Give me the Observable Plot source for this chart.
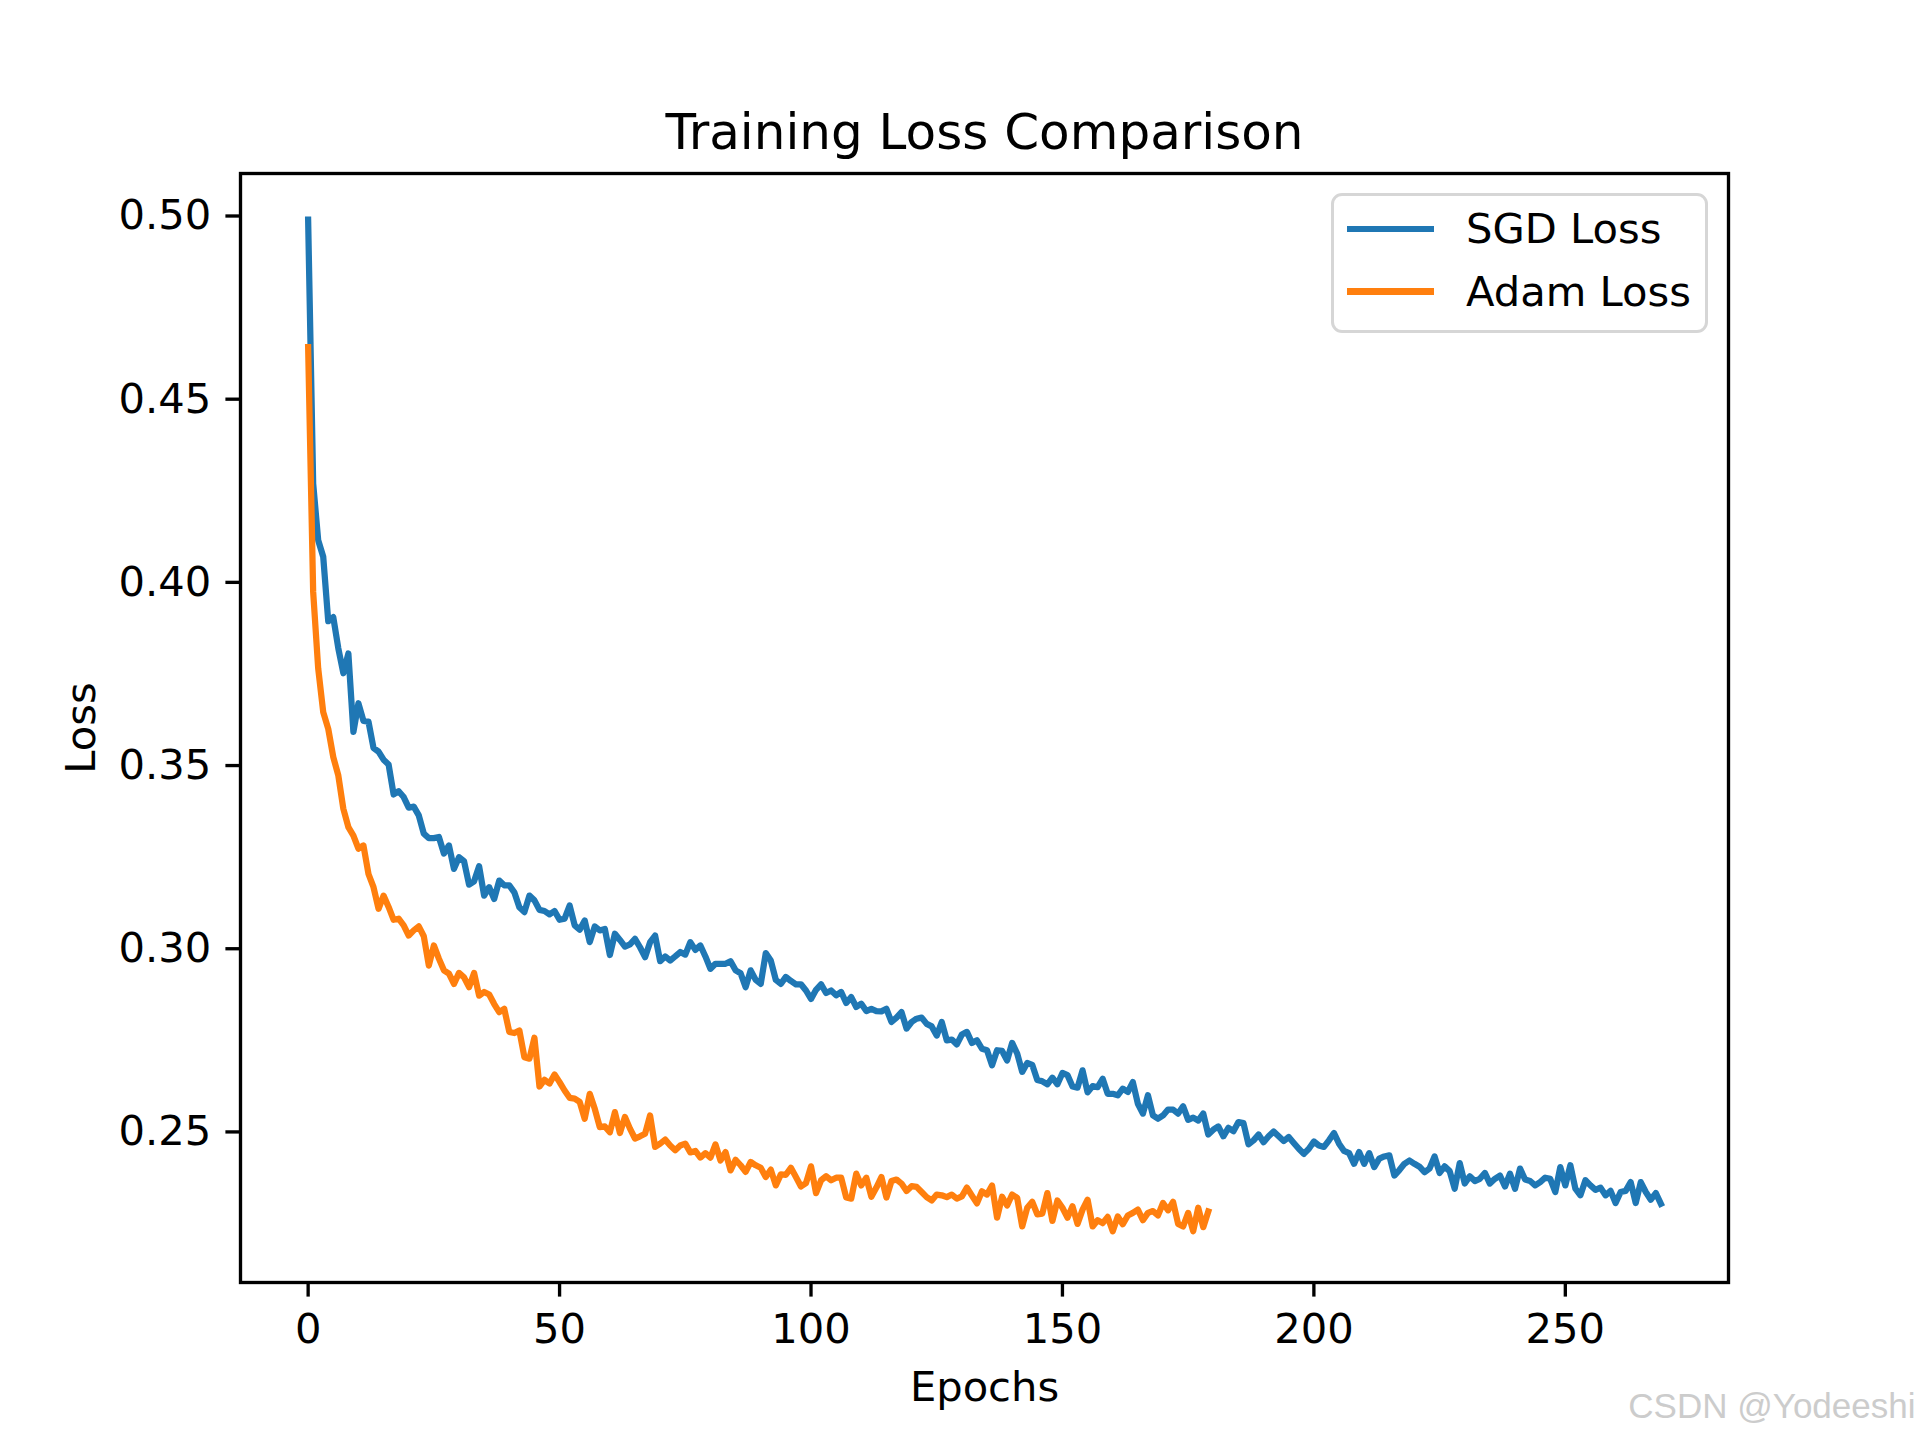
<!DOCTYPE html>
<html>
<head>
<meta charset="utf-8">
<script src="https://cdn.jsdelivr.net/npm/d3@7"></script>
<script src="https://cdn.jsdelivr.net/npm/@observablehq/plot@0.6"></script>
<style>
  html, body { margin: 0; padding: 0; background: #ffffff; }
  #wrap { position: relative; width: 1920px; height: 1440px; background: #ffffff; }
  #legend { position: absolute; left: 1331px; top: 193px; width: 377px; height: 140px; box-sizing: border-box;
    border: 3.3px solid #d6d6d6; border-radius: 11px; background: rgba(255,255,255,0.8);
    font-family: "DejaVu Sans", sans-serif; font-size: 41.67px; color: #000; }
  .sw { position: absolute; left: 12.5px; width: 87px; height: 6.25px; }
  .lt { position: absolute; left: 132px; line-height: 1; white-space: nowrap; }
</style>
</head>
<body>
<div id="wrap">
  <div id="chart"></div>
  <div id="legend"></div>
</div>
<script>
const titleText = "Training Loss Comparison";
const xLabelText = "Epochs";
const yLabelText = "Loss";
const seriesNames = ["SGD Loss", "Adam Loss"];
const seriesColors = ["#1f77b4", "#ff7f0e"];
const xTicks = [0, 50, 100, 150, 200, 250];
const yTicks = [0.25, 0.30, 0.35, 0.40, 0.45, 0.50];
const watermarkText = "CSDN @Yodeeshi";

const sgdLoss = [
0.499,0.427,0.4115,0.407,0.3894,0.3905,0.382,0.3752,0.3806,0.3592,
0.367,0.3622,0.362,0.3548,0.3538,0.3516,0.3503,0.3421,0.343,0.3414,
0.3385,0.3388,0.3364,0.3314,0.3302,0.3302,0.3305,0.326,0.3282,0.3218,
0.325,0.3239,0.3175,0.3184,0.3225,0.3145,0.3168,0.3136,0.3186,0.3173,
0.3173,0.3154,0.3113,0.31,0.3145,0.3132,0.3106,0.3103,0.3094,0.3103,
0.3079,0.3082,0.3118,0.3064,0.3052,0.3077,0.3018,0.3061,0.305,0.3054,
0.2983,0.3041,0.3024,0.3006,0.3012,0.3027,0.3004,0.2977,0.3018,0.3036,
0.2966,0.2979,0.2968,0.2979,0.2991,0.2984,0.3018,0.2997,0.3009,0.2979,
0.2945,0.2959,0.2959,0.2959,0.2966,0.2941,0.2933,0.2895,0.2941,0.2915,
0.2904,0.2988,0.2968,0.2915,0.2904,0.2923,0.2912,0.2903,0.2903,0.2886,
0.2863,0.2888,0.2903,0.2879,0.2886,0.2873,0.2882,0.2852,0.2868,0.2841,
0.285,0.283,0.2836,0.283,0.2829,0.2836,0.28,0.2812,0.2827,0.2782,
0.28,0.2809,0.2812,0.2795,0.2788,0.2763,0.28,0.275,0.2752,0.2739,
0.2766,0.2773,0.2743,0.275,0.2727,0.2723,0.2682,0.2723,0.2721,0.2695,
0.2743,0.2714,0.2664,0.2688,0.2683,0.2642,0.2638,0.263,0.2648,0.263,
0.2661,0.2655,0.2624,0.2621,0.2668,0.2608,0.2625,0.2622,0.2645,0.2604,
0.2604,0.26,0.2618,0.2609,0.2636,0.2577,0.255,0.26,0.2545,0.2536,
0.2545,0.2561,0.2561,0.255,0.257,0.2533,0.2539,0.2531,0.255,0.2493,
0.2506,0.2515,0.2488,0.2511,0.2502,0.2527,0.2524,0.2466,0.2477,0.2493,
0.2472,0.2488,0.2501,0.2488,0.2475,0.2486,0.247,0.2454,0.244,0.2454,
0.2474,0.2463,0.2459,0.2477,0.2497,0.2468,0.2448,0.2442,0.2413,0.2445,
0.2413,0.2442,0.2404,0.2427,0.2433,0.2436,0.2381,0.2396,0.2413,0.2422,
0.2413,0.2405,0.239,0.24,0.2433,0.2388,0.2406,0.2393,0.2345,0.2415,
0.2359,0.2379,0.2366,0.2372,0.2388,0.2359,0.2372,0.2381,0.2351,0.2386,
0.2345,0.24,0.237,0.2366,0.2354,0.2363,0.2375,0.2372,0.2336,0.2404,
0.2354,0.2409,0.2345,0.2327,0.2368,0.2354,0.2342,0.2348,0.2327,0.2339,
0.2306,0.2336,0.2339,0.2363,0.2306,0.2363,0.2336,0.2315,0.2333,0.2304
];

const adamLoss = [
0.4642,0.3974,0.3765,0.3646,0.36,0.3523,0.3473,0.3382,0.3332,0.3309,
0.3273,0.3282,0.3204,0.3168,0.3109,0.3145,0.3114,0.3079,0.3082,0.3064,
0.3036,0.305,0.3061,0.3034,0.2954,0.3009,0.2973,0.2941,0.2932,0.2904,
0.2934,0.2922,0.2895,0.2934,0.2872,0.2882,0.2875,0.2849,0.2827,0.2836,
0.2773,0.277,0.2777,0.2704,0.27,0.2757,0.2624,0.2642,0.2632,0.2657,
0.2636,0.2613,0.2593,0.2591,0.2582,0.2536,0.2604,0.2563,0.2513,0.2515,
0.2499,0.2554,0.2497,0.2541,0.2509,0.2482,0.2488,0.2495,0.2545,0.2459,
0.2468,0.2479,0.2463,0.245,0.2463,0.2468,0.2444,0.2448,0.243,0.2442,
0.243,0.2466,0.2422,0.2445,0.2395,0.2424,0.2409,0.2391,0.2418,0.2409,
0.2402,0.2377,0.2397,0.2354,0.2384,0.2383,0.2402,0.2377,0.2351,0.236,
0.2406,0.2333,0.2368,0.2379,0.2368,0.2375,0.2375,0.2321,0.2318,0.2386,
0.2354,0.2375,0.2323,0.2348,0.2377,0.2321,0.2366,0.237,0.2359,0.2339,
0.2352,0.235,0.2336,0.2322,0.2313,0.2329,0.2327,0.2322,0.2329,0.2318,
0.2324,0.2348,0.2326,0.2305,0.2338,0.2329,0.2354,0.2266,0.2323,0.2299,
0.2329,0.232,0.2242,0.2293,0.2309,0.2275,0.2277,0.2333,0.2257,0.2313,
0.2293,0.2266,0.2297,0.2249,0.2288,0.2315,0.2242,0.2259,0.2251,0.2268,
0.2229,0.2269,0.2248,0.2272,0.2279,0.2288,0.2259,0.2279,0.2284,0.2272,
0.2306,0.2286,0.2309,0.2249,0.2242,0.2279,0.2229,0.2293,0.224,0.2283
];

const FS = 41.67;
const lineStyle = {strokeWidth: 6.25, strokeLinecap: "square", strokeLinejoin: "round"};

const chart = Plot.plot({
  width: 1920,
  height: 1440,
  marginTop: 173,
  marginRight: 192,
  marginBottom: 158,
  marginLeft: 240,
  style: {fontFamily: "DejaVu Sans", background: "#ffffff", color: "#000000", overflow: "visible"},
  x: {domain: [-13.45, 282.45]},
  y: {domain: [0.2089, 0.5116]},
  marks: [
    Plot.lineY(sgdLoss, {x: (d, i) => i, y: d => d, stroke: seriesColors[0], ...lineStyle}),
    Plot.lineY(adamLoss, {x: (d, i) => i, y: d => d, stroke: seriesColors[1], ...lineStyle}),
    Plot.frame({stroke: "#000000", strokeWidth: 3.33}),
    Plot.axisX(xTicks, {tickSize: 14.6, tickPadding: 16, strokeWidth: 3.33, fontSize: FS, label: null, tickFormat: d => String(d)}),
    Plot.axisY(yTicks, {tickSize: 14.6, tickPadding: 14.6, strokeWidth: 3.33, fontSize: FS, label: null, tickFormat: d => d.toFixed(2)}),
    Plot.text([titleText], {text: d => d, frameAnchor: "top", dy: -25, lineAnchor: "bottom", fontSize: 50, fill: "#000000"}),
    Plot.text([xLabelText], {text: d => d, frameAnchor: "bottom", dy: 118, lineAnchor: "bottom", fontSize: FS, fill: "#000000"}),
    Plot.text([yLabelText], {text: d => d, frameAnchor: "left", textAnchor: "middle", dx: -146, rotate: -90, lineAnchor: "bottom", fontSize: FS, fill: "#000000"}),
    Plot.text([watermarkText], {text: d => d, frameAnchor: "bottom-right", dx: 187, dy: 135, textAnchor: "end", lineAnchor: "bottom", fontSize: 35, fontFamily: "Liberation Sans", fill: "#cccccc"})
  ]
});
document.getElementById("chart").appendChild(chart);

// legend
const legend = document.getElementById("legend");
const swTops = [29.6, 92.3];
const txTops = [11.8, 75.2];
seriesNames.forEach((name, i) => {
  const sw = document.createElement("div");
  sw.className = "sw";
  sw.style.top = swTops[i] + "px";
  sw.style.background = seriesColors[i];
  legend.appendChild(sw);
  const t = document.createElement("div");
  t.className = "lt";
  t.style.top = txTops[i] + "px";
  t.textContent = name;
  legend.appendChild(t);
});
</script>
</body>
</html>
